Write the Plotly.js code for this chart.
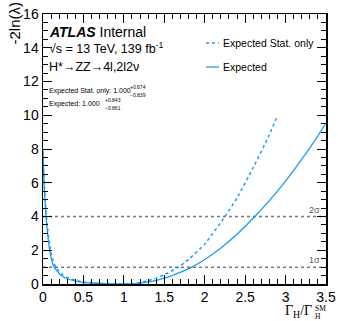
<!DOCTYPE html>
<html>
<head>
<meta charset="utf-8">
<script src="https://cdn.plot.ly/plotly-3.0.1.min.js"></script>
<style>html,body{margin:0;padding:0;background:#fff;}#chart{width:338px;height:321px;}</style>
</head>
<body>
<div id="chart"></div>
<script>
// Expected (stat + syst)
const expX = [0, 0.01, 0.02, 0.03, 0.04, 0.05, 0.06, 0.07, 0.08, 0.09, 0.1, 0.12, 0.139, 0.16, 0.2, 0.25, 0.3, 0.4, 0.5, 0.6, 0.7, 0.8, 0.9, 1.0, 1.1, 1.2, 1.3, 1.4, 1.5, 1.6, 1.7, 1.843, 2.0, 2.2, 2.4, 2.62, 2.8, 3.0, 3.2, 3.4, 3.5];
const expY = [7.7, 6.3, 5.3, 4.5, 3.85, 3.3, 2.85, 2.45, 2.1, 1.8, 1.55, 1.2, 1.0, 0.85, 0.62, 0.43, 0.31, 0.17, 0.1, 0.06, 0.03, 0.012, 0.003, 0, 0.01, 0.05, 0.12, 0.22, 0.35, 0.5, 0.7, 1.0, 1.45, 2.14, 2.95, 4.0, 4.94, 6.1, 7.38, 8.78, 9.55];
// Expected Stat. only
const statX = [0, 0.01, 0.02, 0.03, 0.04, 0.05, 0.06, 0.07, 0.08, 0.09, 0.1, 0.12, 0.14, 0.161, 0.2, 0.25, 0.3, 0.4, 0.5, 0.6, 0.7, 0.8, 0.9, 1.0, 1.1, 1.2, 1.3, 1.4, 1.5, 1.674, 1.8, 2.0, 2.25, 2.4, 2.6, 2.8, 2.9];
const statY = [7.9, 6.6, 5.6, 4.8, 4.15, 3.6, 3.15, 2.75, 2.4, 2.1, 1.85, 1.45, 1.2, 1.0, 0.75, 0.52, 0.38, 0.21, 0.12, 0.07, 0.035, 0.015, 0.004, 0, 0.02, 0.09, 0.2, 0.35, 0.55, 1.0, 1.45, 2.37, 4.0, 5.1, 6.9, 8.85, 10.0];
const sigmaLevels = [1, 4];
const sigmaLabels = ['1σ', '2σ'];
const seriesNames = ['Expected Stat. only', 'Expected'];
const xTitle = 'Γ<sub>H</sub>/Γ';
const yTitle = '-2ln(λ)';

const W = 338, H = 321, L = 43, R = 12, T = 14, B = 37;
const pw = W - L - R, ph = H - T - B;
const px = X => (X - L) / pw;
const py = Y => (H - B - Y) / ph;
const blue = '#1a9cf5';
const font = 'Liberation Sans, Arial, sans-serif';
const serif = 'Liberation Serif, Times New Roman, serif';

const traces = [
  {x: statX, y: statY, mode: 'lines', line: {color: blue, width: 1.5, dash: 'dot', shape: 'spline', smoothing: 0.5}, name: seriesNames[0], showlegend: false},
  {x: expX, y: expY, mode: 'lines', line: {color: blue, width: 1.3, shape: 'spline', smoothing: 0.5}, name: seriesNames[1], showlegend: false}
];

const shapes = sigmaLevels.map(v => ({type: 'line', xref: 'paper', yref: 'y', x0: 0, x1: 1, y0: v, y1: v, line: {color: '#777', width: 1.5, dash: 'dot'}, layer: 'below'}));
// legend samples
shapes.push({type: 'line', xref: 'paper', yref: 'paper', x0: px(206), x1: px(219), y0: py(43), y1: py(43), line: {color: blue, width: 1.5, dash: 'dot'}});
shapes.push({type: 'line', xref: 'paper', yref: 'paper', x0: px(206), x1: px(219), y0: py(67), y1: py(67), line: {color: blue, width: 1.3}});

const ann = (text, X, Y, size, opts = {}) => Object.assign({text, xref: 'paper', yref: 'paper', x: px(X), y: py(Y), xanchor: 'left', yanchor: 'middle', showarrow: false, font: {family: font, size, color: '#000'}}, opts);

const annotations = [
  ann('<b><i>ATLAS</i></b> Internal', 47, 32, 14),
  ann('√s = 13 TeV, 139 fb<sup>-1</sup>', 47, 48, 12.5),
  ann('H*→ZZ→4l,2l2ν', 47, 67, 12.5),
  ann('Expected Stat. only: 1.000', 47, 91, 7),
  ann('+0.674', 128, 87, 5),
  ann('−0.839', 128, 95, 5),
  ann('Expected: 1.000', 47, 104, 7),
  ann('+0.843', 103, 100, 5),
  ann('−0.861', 103, 108, 5),
  ann(seriesNames[0], 221, 43, 10.5),
  ann(seriesNames[1], 221, 67, 10.5),
  ann(sigmaLabels[0], 307, 260, 9, {font: {family: font, size: 9, color: '#555'}}),
  ann(sigmaLabels[1], 307, 210, 9, {font: {family: font, size: 9, color: '#555'}}),
  ann(yTitle, 14, -1, 15, {textangle: -90, xanchor: 'center', yanchor: 'top'}),
  ann(xTitle, 314, 311, 14, {xanchor: 'right', font: {family: serif, size: 14, color: '#000'}}),
  ann('SM', 313, 308.5, 7.5, {font: {family: serif, size: 7.5, color: '#000'}}),
  ann('H', 313, 316.5, 7.5, {font: {family: serif, size: 7.5, color: '#000'}})
];

const axisCommon = {
  showgrid: false, zeroline: false, showline: true, linecolor: '#000', linewidth: 1.5,
  mirror: 'allticks', ticks: 'inside', ticklen: 9, tickwidth: 1, tickcolor: '#000',
  tickfont: {family: font, size: 14, color: '#000'}
};

const layout = {
  width: W, height: H,
  margin: {l: L, r: R, t: T, b: B, pad: 0},
  paper_bgcolor: '#fff', plot_bgcolor: '#fff',
  showlegend: false,
  xaxis: Object.assign({}, axisCommon, {range: [0, 3.5], dtick: 0.5, tick0: 0, minor: {dtick: 0.1, ticklen: 5, ticks: 'inside', tickcolor: '#000', showgrid: false}}),
  yaxis: Object.assign({}, axisCommon, {range: [0, 16], dtick: 2, tick0: 0, minor: {dtick: 0.5, ticklen: 5, ticks: 'inside', tickcolor: '#000', showgrid: false}}),
  shapes, annotations
};

Plotly.newPlot('chart', traces, layout, {staticPlot: true, displayModeBar: false});
</script>
</body>
</html>
